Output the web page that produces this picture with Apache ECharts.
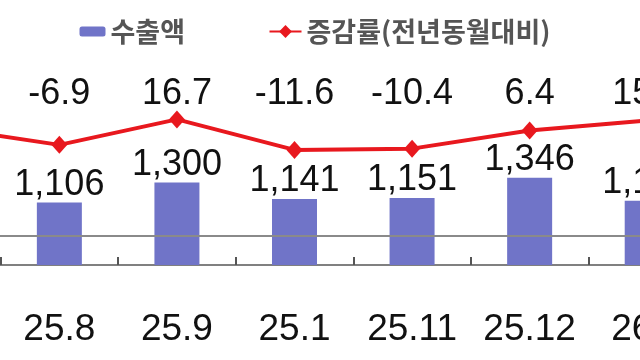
<!DOCTYPE html>
<html><head><meta charset="utf-8">
<script src="https://cdn.jsdelivr.net/npm/echarts@6/dist/echarts.min.js"></script>
<style>html,body{margin:0;padding:0;background:#fff;overflow:hidden;width:640px;height:360px;position:relative}
#c{position:absolute;left:-117.5px;top:0;width:822.5px;height:360px}</style>
</head><body><div id="c"></div>
<script>
const categories = ['25.7','25.8','25.9','25.1','25.11','25.12','26.1'];
const exports = [1180, 1106, 1300, 1141, 1151, 1346, 1125];
const growth = [9.5, -6.9, 16.7, -11.6, -10.4, 6.4, 15.6];
const seriesNames = ['수출액', '증감률(전년동월대비)'];
const refLevel = [780];

const SANS = "'Liberation Sans',Arial,sans-serif";
const KR = "'Noto Sans CJK KR',sans-serif";
const OFF = 117.5; // chart starts left of the visible window
const chart = echarts.init(document.getElementById('c'), null, {renderer:'canvas'});
chart.setOption({
  animation: false,
  backgroundColor: '#fff',
  legend: [
    {data: [seriesNames[0]], top: 18, left: 79 + OFF, padding: 0, itemWidth: 26, itemHeight: 10, itemGap: 5,
      textStyle: {fontFamily: KR, fontSize: 27, fontWeight: 'bold', color: '#555'}},
    {data: [seriesNames[1]], top: 18, left: 268 + OFF, padding: 0, itemWidth: 32, itemHeight: 16, itemGap: 5,
      textStyle: {fontFamily: KR, fontSize: 27, fontWeight: 'bold', color: '#555'}}
  ],
  grid: {left: 0, right: 0, top: 0, bottom: 95, containLabel: false},
  xAxis: {
    type: 'category', data: categories,
    axisLine: {onZero: false, lineStyle: {color: '#808080', width: 2}},
    axisTick: {show: true, length: 8, inside: true, lineStyle: {color: '#555', width: 2}},
    axisLabel: {fontFamily: SANS, fontSize: 37, color: '#111', margin: 46, interval: 0}
  },
  yAxis: [
    {type: 'value', min: 500, max: 3073, show: false, splitLine:{show:false}},
    {type: 'value', min: -118.2, max: 127.3, show: false, splitLine:{show:false}}
  ],
  series: [
    {
      name: 'ref', type: 'line', data: [], yAxisIndex: 0, z: 1, silent: true,
      markLine: {symbol: 'none', silent: true, label: {show: false},
        lineStyle: {color: '#8a8a8a', width: 2, type: 'solid'},
        data: refLevel.map(v => ({yAxis: v}))}
    },
    {
      name: seriesNames[0], type: 'bar', data: exports, yAxisIndex: 0, z: 3,
      barWidth: 45, itemStyle: {color: '#7074c8'},
      label: {show: true, position: 'top', distance: 0, fontFamily: SANS, fontSize: 36, color: '#111',
        formatter: p => p.value.toLocaleString('en-US')}
    },
    {
      name: seriesNames[1], type: 'line', data: growth, yAxisIndex: 1,
      symbol: 'diamond', symbolSize: [16, 18],
      lineStyle: {color: '#e8181e', width: 4},
      itemStyle: {color: '#e8181e'},
      label: {show: true, position: 'top', fontFamily: SANS, fontSize: 36, color: '#111',
        formatter: p => p.value.toFixed(1)},
      labelLayout: p => ({x: p.rect.x + p.rect.width / 2, y: 94, align: 'center', verticalAlign: 'middle', hideOverlap: false}),
      z: 5
    }
  ]
});
</script></body></html>
